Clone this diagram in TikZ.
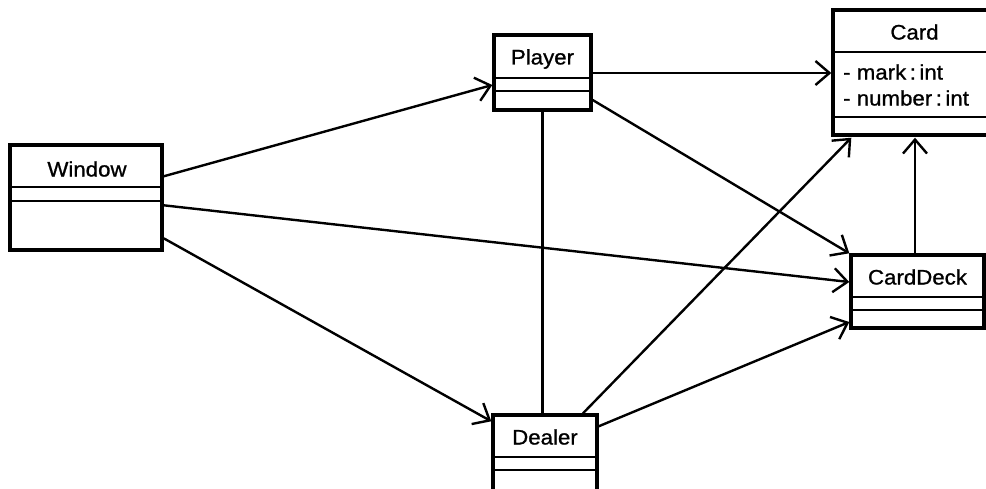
\documentclass[tikz,border=0pt]{standalone}
\usepackage{fontspec}
\setmainfont{Liberation Sans}[FakeStretch=1.06, FakeBold=1]
\usetikzlibrary{arrows.meta,calc}

\tikzset{
  cls/.style={draw, line width=3.4pt, inner sep=0pt, fill=white},
  sep/.style={line width=2.6pt},
  title/.style={inner sep=0pt, font=\fontsize{21}{23}\selectfont},
  attr/.style={inner sep=0pt, anchor=west, font=\fontsize{21}{23}\selectfont},
  assoc/.style={line width=2.4pt},
  arr/.style={line width=2.4pt, -{Straight Barb[length=14pt,width=24pt,line width=2.4pt]}}
}

\begin{document}
\begin{tikzpicture}[x=1pt, y=-1pt]
  \fill[white] (0,0) rectangle (986,488);
  \useasboundingbox (0,0) rectangle (986,488);

  % class boxes
  \node[cls, minimum width=152pt, minimum height=105pt] (win)    at (86,197.5)  {};
  \node[cls, minimum width=97pt,  minimum height=75pt]  (player) at (542.5,72.5) {};
  \node[cls, minimum width=161pt, minimum height=125pt] (card)   at (913.5,72.5) {};
  \node[cls, minimum width=133pt, minimum height=73pt]  (deck)   at (917.5,291.5) {};
  \node[cls, minimum width=104pt, minimum height=85pt]  (dealer) at (545,457.5)  {};

  % compartment separators
  \draw[sep] (win.west |- 0,187) -- (win.east |- 0,187);
  \draw[sep] (win.west |- 0,201) -- (win.east |- 0,201);
  \draw[sep] (player.west |- 0,78) -- (player.east |- 0,78);
  \draw[sep] (player.west |- 0,91) -- (player.east |- 0,91);
  \draw[sep] (card.west |- 0,52) -- (card.east |- 0,52);
  \draw[sep] (card.west |- 0,117) -- (card.east |- 0,117);
  \draw[sep] (deck.west |- 0,297) -- (deck.east |- 0,297);
  \draw[sep] (deck.west |- 0,310) -- (deck.east |- 0,310);
  \draw[sep] (dealer.west |- 0,457) -- (dealer.east |- 0,457);
  \draw[sep] (dealer.west |- 0,470) -- (dealer.east |- 0,470);

  % class names and attributes
  \node[title] (winT)    at (87,169)   {Window};
  \node[title] (playerT) at (542.5,59) {Player};
  \node[title] (cardT)   at (914.5,32) {Card};
  \node[title] (deckT)   at (917.5,277) {CardDeck};
  \node[title] (dealerT) at (545,437)  {Dealer};
  \node[attr] (cardA1) at (843,72) {- mark\,:\,int};
  \node[attr] (cardA2) at (843,98) {- number\,:\,int};

  % associations
  \draw[arr] ([yshift=-33pt]win.north east) -- ([yshift=-12.5pt]player.west);
  \draw[arr] ([yshift=-62pt]win.north east) -- ([yshift=9.5pt]deck.west);
  \draw[arr] ([yshift=-95pt]win.north east) -- ([yshift=-8pt]dealer.north west);
  \draw[arr] ([yshift=-0.5pt]player.east) -- ([yshift=-0.5pt]card.west);
  \draw[arr] ([yshift=-27.5pt]player.east) -- (deck.north west);
  \draw[assoc] (player.south) -- (player.south |- dealer.north);
  \draw[arr] ([xshift=38pt]dealer.north) -- ([xshift=20pt,yshift=-1pt]card.south west);
  \draw[arr] ([yshift=-13pt]dealer.north east) -- ([yshift=-30.5pt]deck.west);
  \draw[arr] ([xshift=-2.5pt]deck.north) -- ([xshift=1.5pt,yshift=-1pt]card.south);
\end{tikzpicture}
\end{document}
